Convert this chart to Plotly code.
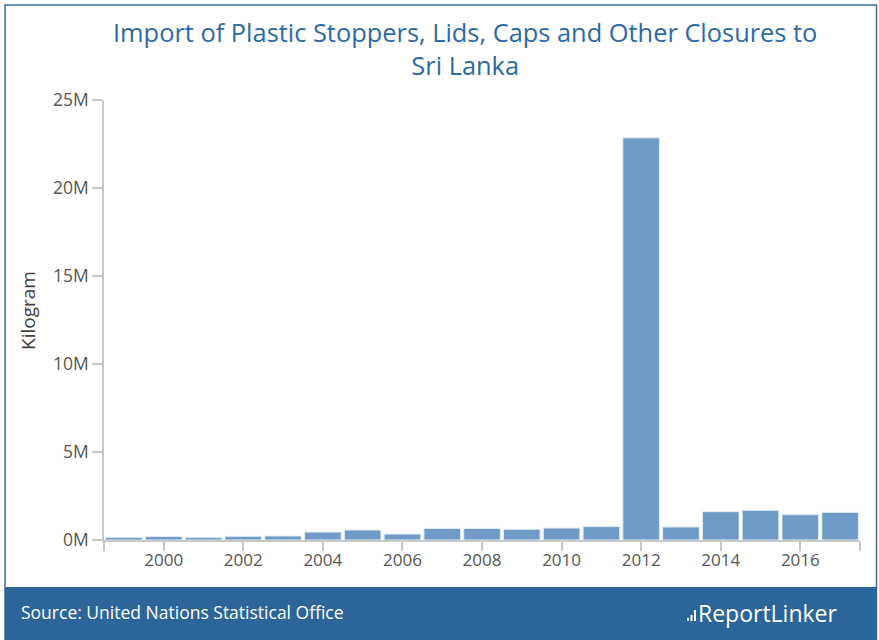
import plotly.graph_objects as go

years = list(range(1999, 2018))
values_kg = [0.15e6, 0.20e6, 0.15e6, 0.21e6, 0.23e6, 0.45e6, 0.57e6, 0.34e6, 0.66e6, 0.66e6,
             0.61e6, 0.68e6, 0.76e6, 22.85e6, 0.74e6, 1.61e6, 1.69e6, 1.44e6, 1.57e6]
x_ticks = [2000, 2002, 2004, 2006, 2008, 2010, 2012, 2014, 2016]
y_ticks = [0, 5e6, 10e6, 15e6, 20e6, 25e6]
y_tick_labels = ["0M", "5M", "10M", "15M", "20M", "25M"]

W, H = 879, 640
L, R, T, B = 104, 19, 100, 100
PW, PH = W - L - R, H - T - B

def px(x):
    return (x - L) / PW

def py(y):
    return (H - B - y) / PH

FONT = "Open Sans"
AX = "#c8c8c8"

fig = go.Figure()
fig.add_trace(go.Bar(
    x=years, y=values_kg,
    marker=dict(color="#6f9bc6", line=dict(color="#e4ecf4", width=1)),
    hoverinfo="x+y",
))

shapes = [
    dict(type="rect", xref="paper", yref="paper", x0=px(5), x1=px(876.5), y0=py(640), y1=py(5),
         line=dict(color="#3c6fa4", width=1.5), fillcolor="rgba(0,0,0,0)", layer="below"),
    dict(type="rect", xref="paper", yref="paper", x0=px(5), x1=px(877), y0=py(641), y1=py(587),
         line=dict(width=0), fillcolor="#2b6599", layer="above"),
]
for bx, bh in [(687, 3), (690.5, 6), (694, 11)]:
    shapes.append(dict(type="rect", xref="paper", yref="paper", x0=px(bx), x1=px(bx + 2),
                       y0=py(621), y1=py(621 - bh), line=dict(width=0), fillcolor="white"))

fig.update_layout(
    width=W, height=H,
    margin=dict(l=L, r=R, t=T, b=B, pad=0),
    paper_bgcolor="white", plot_bgcolor="white",
    font=dict(family=FONT, color="#555555", size=17),
    showlegend=False,
    bargap=0.08,
    xaxis=dict(
        range=[1998.5, 2017.5],
        tickvals=[1998.5] + x_ticks + [2017.5],
        ticktext=[""] + [str(v) for v in x_ticks] + [""],
        ticks="outside", ticklen=9, tickcolor=AX, tickwidth=1.5,
        showline=True, linecolor=AX, linewidth=1.5,
        showgrid=False, zeroline=False,
        tickfont=dict(size=17, color="#555555"),
        ticklabelstandoff=-5,
        fixedrange=True,
    ),
    yaxis=dict(
        range=[0, 25e6],
        tickvals=y_ticks, ticktext=y_tick_labels,
        ticks="outside", ticklen=10, tickcolor=AX, tickwidth=1.5,
        showline=True, linecolor=AX, linewidth=1.5,
        showgrid=False, zeroline=False,
        tickfont=dict(size=17.5, color="#555555"),
        fixedrange=True,
    ),
    shapes=shapes,
    annotations=[
        dict(text="Import of Plastic Stoppers, Lids, Caps and Other Closures to<br>Sri Lanka",
             xref="paper", yref="paper", x=px(465), y=py(49), xanchor="center", yanchor="middle",
             showarrow=False, align="center",
             font=dict(family=FONT, size=25.4, color="#2e6aa3")),
        dict(text="Kilogram", xref="paper", yref="paper", x=px(28), y=py(311),
             xanchor="center", yanchor="middle", textangle=-90, showarrow=False,
             font=dict(family=FONT, size=19, color="#444444")),
        dict(text="Source: United Nations Statistical Office", xref="paper", yref="paper",
             x=px(19), y=py(612), xanchor="left", yanchor="middle", showarrow=False,
             font=dict(family=FONT, size=17.5, color="white")),
        dict(text="ReportLinker", xref="paper", yref="paper",
             x=px(696), y=py(613), xanchor="left", yanchor="middle", showarrow=False,
             font=dict(family=FONT, size=23, color="white")),
    ],
)

fig.write_html("out.html", config={"displayModeBar": False})
